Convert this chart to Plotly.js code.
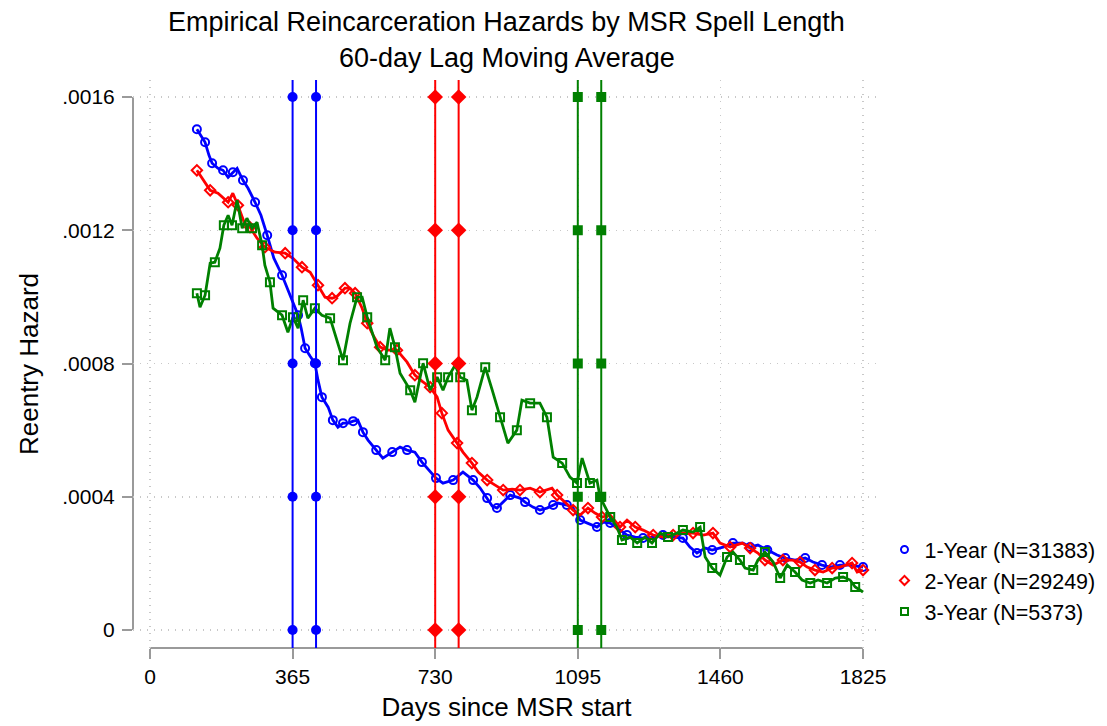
<!DOCTYPE html>
<html>
<head>
<meta charset="utf-8">
<script src="https://cdn.plot.ly/plotly-3.0.1.min.js"></script>
<style>html,body{margin:0;padding:0;background:#fff;}#chart{width:1107px;height:726px;}</style>
</head>
<body>
<div id="chart"></div>
<script>
// ---- Data ----
const titleLine1 = 'Empirical Reincarceration Hazards by MSR Spell Length';
const titleLine2 = '60-day Lag Moving Average';
const seriesNames = ['1-Year (N=31383)', '2-Year (N=29249)', '3-Year (N=5373)'];

const daysY1 = [120,131,141,151,159,174,187,200,212,223,238,251,269,284,300,317,338,361,379,387,397,410,422,430,440,456,468,481,494,507,520,532,545,558,579,596,620,640,658,678,696,717,732,750,776,801,827,845,863,876,888,904,922,947,960,980,998,1016,1032,1044,1067,1083,1101,1119,1144,1160,1178,1203,1221,1242,1262,1288,1313,1339,1364,1382,1400,1421,1439,1467,1492,1518,1536,1556,1580,1605,1626,1651,1677,1697,1720,1741,1766,1792,1825];
const hazY1 = [0.001503,0.001482,0.001464,0.001425,0.001401,0.001386,0.001380,0.001359,0.001374,0.001386,0.001350,0.001326,0.001284,0.001245,0.001185,0.001116,0.001065,0.000999,0.000945,0.000906,0.000846,0.000822,0.000801,0.000750,0.000699,0.000669,0.000630,0.000609,0.000621,0.000621,0.000627,0.000630,0.000594,0.000570,0.000540,0.000516,0.000534,0.000549,0.000540,0.000534,0.000504,0.000474,0.000456,0.000441,0.000450,0.000474,0.000450,0.000426,0.000396,0.000372,0.000366,0.000384,0.000405,0.000396,0.000384,0.000369,0.000360,0.000366,0.000375,0.000381,0.000375,0.000366,0.000330,0.000321,0.000309,0.000324,0.000321,0.000300,0.000285,0.000279,0.000276,0.000279,0.000285,0.000279,0.000276,0.000249,0.000231,0.000246,0.000240,0.000249,0.000261,0.000261,0.000249,0.000255,0.000240,0.000225,0.000216,0.000210,0.000216,0.000204,0.000195,0.000189,0.000195,0.000195,0.000189];

const daysY2 = [120,136,154,174,200,212,225,241,256,274,294,320,346,366,389,410,430,448,466,479,499,512,525,543,556,571,589,609,632,658,678,696,717,735,747,763,786,801,824,840,863,883,904,927,947,973,998,1029,1042,1062,1083,1101,1121,1139,1157,1178,1203,1221,1242,1262,1288,1313,1339,1364,1390,1416,1441,1459,1485,1516,1536,1556,1574,1595,1620,1644,1664,1682,1702,1723,1746,1766,1797,1810,1825];
const hazY2 = [0.001380,0.001350,0.001320,0.001311,0.001284,0.001311,0.001275,0.001224,0.001209,0.001176,0.001149,0.001134,0.001131,0.001116,0.001089,0.001074,0.001035,0.000999,0.000996,0.001002,0.001026,0.001026,0.001011,0.000966,0.000921,0.000885,0.000849,0.000840,0.000840,0.000804,0.000765,0.000747,0.000729,0.000699,0.000651,0.000600,0.000561,0.000534,0.000501,0.000474,0.000450,0.000435,0.000420,0.000423,0.000420,0.000426,0.000414,0.000426,0.000405,0.000384,0.000360,0.000345,0.000366,0.000351,0.000339,0.000345,0.000309,0.000330,0.000309,0.000300,0.000285,0.000279,0.000285,0.000291,0.000291,0.000285,0.000291,0.000261,0.000249,0.000261,0.000246,0.000231,0.000210,0.000195,0.000210,0.000210,0.000204,0.000189,0.000180,0.000174,0.000186,0.000189,0.000201,0.000174,0.000180];

const daysY3 = [120,128,141,154,166,179,189,200,210,223,236,248,261,274,287,294,307,315,338,353,366,379,392,404,422,440,461,479,494,512,530,543,556,581,602,614,627,640,666,678,699,717,735,750,763,781,794,811,824,837,858,876,896,916,939,952,973,998,1016,1032,1055,1075,1093,1106,1126,1144,1152,1165,1178,1195,1208,1229,1247,1267,1285,1306,1326,1349,1364,1390,1408,1421,1439,1459,1477,1492,1510,1523,1544,1556,1574,1595,1613,1631,1651,1669,1690,1710,1733,1754,1774,1792,1805,1825];
const hazY3 = [0.001011,0.000969,0.001005,0.001101,0.001104,0.001146,0.001215,0.001245,0.001215,0.001290,0.001206,0.001236,0.001206,0.001224,0.001155,0.001095,0.001044,0.000966,0.000945,0.000894,0.000939,0.000906,0.000990,0.000936,0.000966,0.000945,0.000936,0.000870,0.000810,0.000921,0.000999,0.000999,0.000939,0.000849,0.000810,0.000906,0.000849,0.000771,0.000720,0.000684,0.000801,0.000720,0.000759,0.000720,0.000759,0.000795,0.000759,0.000750,0.000660,0.000699,0.000789,0.000720,0.000639,0.000561,0.000600,0.000690,0.000681,0.000681,0.000639,0.000519,0.000501,0.000459,0.000441,0.000516,0.000441,0.000450,0.000399,0.000369,0.000339,0.000309,0.000270,0.000279,0.000261,0.000279,0.000261,0.000291,0.000279,0.000291,0.000300,0.000294,0.000309,0.000219,0.000186,0.000165,0.000219,0.000234,0.000210,0.000186,0.000180,0.000210,0.000234,0.000204,0.000156,0.000195,0.000174,0.000150,0.000141,0.000150,0.000141,0.000156,0.000159,0.000150,0.000129,0.000114];

// reference lines (cutoffs) and marker levels on them
const refLinesY1 = [365, 425];
const refLinesY2 = [730, 790];
const refLinesY3 = [1095, 1155];
const refMarkerLevels = [0, 0.0004, 0.0008, 0.0012, 0.0016];

const xTickVals = [0, 365, 730, 1095, 1460, 1825];
const xTickText = ['0', '365', '730', '1095', '1460', '1825'];
const yTickVals = [0, 0.0004, 0.0008, 0.0012, 0.0016];
const yTickText = ['0', '.0004', '.0008', '.0012', '.0016'];

// ---- Styling ----
const colors = ['#0000ff', '#ff0000', '#008000'];
const openSymbols = ['circle-open', 'diamond-open', 'square-open'];
const fillSymbols = ['circle', 'diamond', 'square'];
const FONT = 'Liberation Sans, Arial, Helvetica, sans-serif';
const GRID = '#c8c8c8';
const AXIS = '#9a9a9a';

const series = [[daysY1, hazY1], [daysY2, hazY2], [daysY3, hazY3]];
const refLines = [refLinesY1, refLinesY2, refLinesY3];

const traces = [];
series.forEach((s, i) => {
  const op = s[0].map((_, k) => (k % 2 === 0 ? 1 : 0));
  traces.push({
    x: s[0], y: s[1], type: 'scatter', mode: 'lines+markers',
    line: {color: colors[i], width: 2.8},
    marker: {symbol: openSymbols[i], size: 8, opacity: op, color: colors[i], line: {color: colors[i], width: 2}},
    showlegend: false, hoverinfo: 'skip'
  });
});
const shapes = [];
refLines.forEach((xs, i) => {
  xs.forEach(xv => {
    shapes.push({type: 'line', xref: 'x', yref: 'paper', x0: xv, x1: xv, y0: 0, y1: 1,
      line: {color: colors[i], width: 2}, layer: 'above'});
    traces.push({
      x: refMarkerLevels.map(() => xv), y: refMarkerLevels, type: 'scatter', mode: 'markers',
      marker: {symbol: fillSymbols[i], size: i === 1 ? 12 : 10, color: colors[i]},
      showlegend: false, hoverinfo: 'skip', cliponaxis: false
    });
  });
});
// legend-only entries (marker only, like the reference key)
series.forEach((s, i) => {
  traces.push({
    x: [null], y: [null], type: 'scatter', mode: 'markers', name: seriesNames[i],
    legendgroup: 'g' + i,
    marker: {symbol: openSymbols[i], size: 7, color: colors[i], line: {color: colors[i], width: 2}}
  });
});
// Stata-style axis lines spanning only the tick range
shapes.push({type: 'line', xref: 'paper', yref: 'y', x0: 0, x1: 0, y0: 0, y1: 0.0016,
  line: {color: AXIS, width: 2}, layer: 'below'});
shapes.push({type: 'line', xref: 'x', yref: 'paper', x0: 0, x1: 1825, y0: 0, y1: 0,
  line: {color: AXIS, width: 2}, layer: 'below'});

const layout = {
  width: 1107, height: 726,
  margin: {l: 133, r: 227, t: 80, b: 78},
  paper_bgcolor: '#ffffff', plot_bgcolor: '#ffffff',
  font: {family: FONT, color: '#000000', size: 21},
  title: {
    text: titleLine1,
    font: {family: FONT, size: 27, color: '#000'},
    xref: 'paper', x: 0.5, xanchor: 'center',
    yref: 'container', y: 0.971, yanchor: 'middle'
  },
  annotations: [{
    text: titleLine2, xref: 'paper', yref: 'paper', x: 0.5, y: 1.0387,
    xanchor: 'center', yanchor: 'middle', showarrow: false,
    font: {family: FONT, size: 27, color: '#000'}
  }],
  xaxis: {
    range: [-43.5, 1868.5], tickvals: xTickVals, ticktext: xTickText,
    showline: false, zeroline: false,
    ticks: 'outside', ticklen: 10, tickwidth: 2, tickcolor: AXIS,
    showgrid: true, gridcolor: GRID, griddash: '1px,6px', gridwidth: 1.5,
    tickfont: {size: 21, family: FONT},
    title: {text: 'Days since MSR start', font: {size: 26, family: FONT}, standoff: 10}
  },
  yaxis: {
    range: [-0.000054, 0.001651], tickvals: yTickVals, ticktext: yTickText,
    showline: false, zeroline: false,
    ticks: 'outside', ticklen: 10, tickwidth: 2, tickcolor: AXIS, ticklabelstandoff: 3,
    showgrid: true, gridcolor: GRID, griddash: '1px,6px', gridwidth: 1.5,
    tickfont: {size: 21, family: FONT},
    title: {text: 'Reentry Hazard', font: {size: 26, family: FONT}, standoff: 16}
  },
  legend: {
    xref: 'container', yref: 'container', x: 0.799, xanchor: 'left', y: 0.2713, yanchor: 'top',
    font: {size: 21.5, family: FONT}, itemwidth: 30, traceorder: 'grouped', tracegroupgap: 0,
    bgcolor: 'rgba(0,0,0,0)'
  },
  shapes: shapes,
  showlegend: true
};

Plotly.newPlot('chart', traces, layout, {displayModeBar: false, staticPlot: true});
</script>
</body>
</html>
